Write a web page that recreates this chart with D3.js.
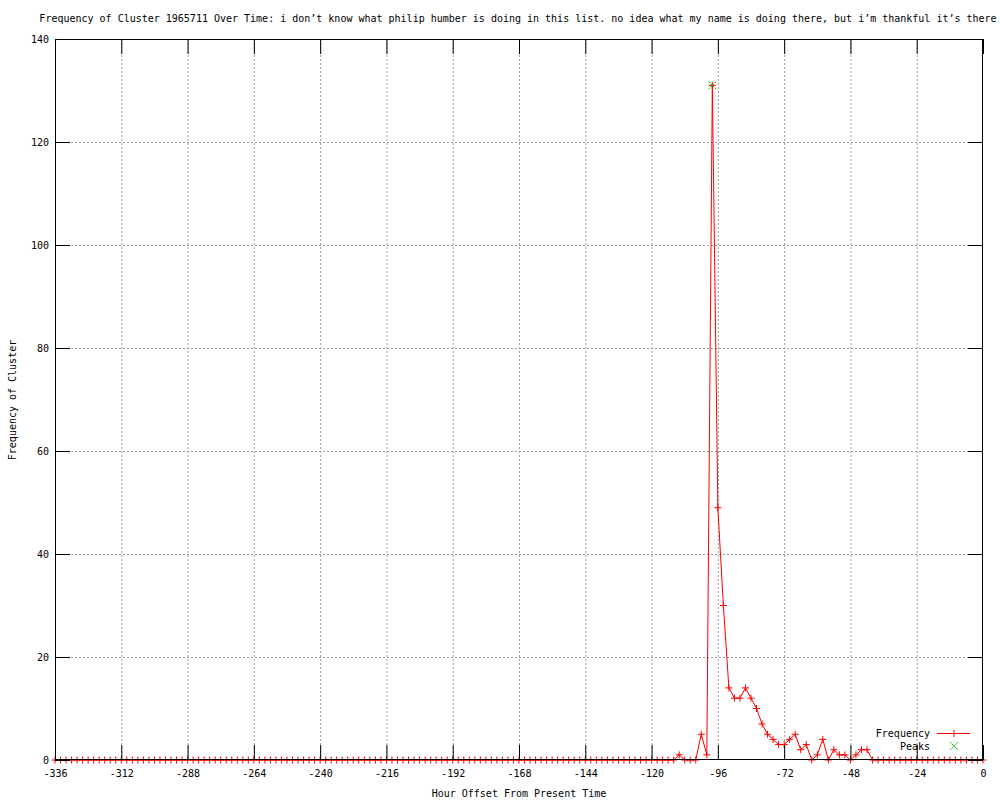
<!DOCTYPE html>
<html>
<head>
<meta charset="utf-8">
<script src="https://cdn.jsdelivr.net/npm/d3@7"></script>
<style>
  html, body { margin: 0; padding: 0; background: #fff; }
  svg { display: block; }
  text { font-family: "DejaVu Sans Mono", "Liberation Mono", monospace; font-size: 10px; fill: #000; }
</style>
</head>
<body>
<svg id="chart" width="1000" height="800"></svg>
<script>
// ---- data ----
const titleText = "Frequency of Cluster 1965711 Over Time: i don\u2019t know what philip humber is doing in this list. no idea what my name is doing there, but i\u2019m thankful it\u2019s there";
const xLabel = "Hour Offset From Present Time";
const yLabel = "Frequency of Cluster";
const seriesNames = ["Frequency", "Peaks"];
const startHour = -336;
const stepHours = 2;
// frequency every 2 hours from -336 to 0
const frequency = [
  0,0,0,0,0,0,0,0,0,0, 0,0,0,0,0,0,0,0,0,0,
  0,0,0,0,0,0,0,0,0,0, 0,0,0,0,0,0,0,0,0,0,
  0,0,0,0,0,0,0,0,0,0, 0,0,0,0,0,0,0,0,0,0,
  0,0,0,0,0,0,0,0,0,0, 0,0,0,0,0,0,0,0,0,0,
  0,0,0,0,0,0,0,0,0,0, 0,0,0,0,0,0,0,0,0,0,
  0,0,0,0,0,0,0,0,0,0, 0,0,0,          // -336 .. -112
  1, 0, 0, 0,                         // -110 .. -104
  5, 1, 131, 49, 30, 14, 12, 12, 14, 12, // -102 .. -84
  10, 7, 5, 4, 3, 3, 4, 5, 2, 3,      // -82 .. -64
  0, 1, 4, 0, 2, 1, 1, 0, 1, 2, 2,    // -62 .. -42
  0,0,0,0,0,0,0,0,0,0, 0,0,0,0,0,0,0,0,0,0, 0 // -40 .. 0
];
const peakHours = [-98];
const peakValues = [131];
const xTicks = [-336,-312,-288,-264,-240,-216,-192,-168,-144,-120,-96,-72,-48,-24,0];
const yTicks = [0,20,40,60,80,100,120,140];

// ---- layout ----
const svg = d3.select("#chart");
const L = 55, R = 983, T = 39, B = 760;
const x = d3.scaleLinear().domain([-336, 0]).range([L, R]);
const y = d3.scaleLinear().domain([0, 140]).range([B, T]);
const hours = frequency.map((_, i) => startHour + i * stepHours);
const pts = frequency.map((v, i) => ({h: hours[i], v}));
const tickLen = 15;
const red = "#ff0000", green = "#00c000", gridCol = "#a0a0a0";

// grid
const grid = svg.append("g");
xTicks.filter(t => t !== -336 && t !== 0).forEach(t => {
  grid.append("line").attr("x1", x(t)+0.5).attr("x2", x(t)+0.5).attr("y1", T).attr("y2", B)
    .attr("stroke", gridCol).attr("stroke-width", 1).attr("stroke-dasharray", "2,2");
});
yTicks.filter(t => t !== 0 && t !== 140).forEach(t => {
  grid.append("line").attr("x1", L).attr("x2", R).attr("y1", Math.round(y(t))+0.5).attr("y2", Math.round(y(t))+0.5)
    .attr("stroke", gridCol).attr("stroke-width", 1).attr("stroke-dasharray", "2,2");
});

// data line
const line = d3.line().x(d => x(d.h)).y(d => y(d.v));
svg.append("path").datum(pts).attr("d", line).attr("fill", "none")
  .attr("stroke", red).attr("stroke-width", 1);

// markers (+)
svg.append("g").selectAll("path.m").data(pts).join("path")
  .attr("d", d => `M${x(d.h)-3.5},${y(d.v)}h7M${x(d.h)},${y(d.v)-3.5}v7`)
  .attr("stroke", red).attr("stroke-width", 1).attr("fill", "none");

// border
svg.append("rect").attr("x", L+0.5).attr("y", T+0.5).attr("width", R-L-1).attr("height", B-T-1)
  .attr("fill", "none").attr("stroke", "#000").attr("stroke-width", 1);

// peaks (x marker)
svg.append("g").selectAll("path.p").data(peakHours.map((h, i) => ({h, v: peakValues[i]}))).join("path")
  .attr("d", d => `M${x(d.h)-4},${y(d.v)-4}l8,8M${x(d.h)-4},${y(d.v)+4}l8,-8`)
  .attr("stroke", green).attr("stroke-width", 1).attr("stroke-dasharray", "2,1").attr("fill", "none");

// axes (ticks inside, mirrored)
const axB = d3.axisBottom(x).tickValues(xTicks).tickSizeInner(-tickLen).tickSizeOuter(0)
  .tickPadding(10).tickFormat(d => d3.format("d")(d).replace("\u2212", "-"));
svg.append("g").attr("transform", `translate(0,${B})`).call(axB)
  .call(g => g.select(".domain").remove())
  .call(g => g.selectAll("line").attr("stroke", "#000"))
  .call(g => g.selectAll("text").style("font-family", "DejaVu Sans Mono").style("font-size", "10px"));
const axT = d3.axisTop(x).tickValues(xTicks).tickSizeInner(-tickLen).tickSizeOuter(0).tickFormat("");
svg.append("g").attr("transform", `translate(0,${T})`).call(axT)
  .call(g => g.select(".domain").remove())
  .call(g => g.selectAll("line").attr("stroke", "#000"));
const axL = d3.axisLeft(y).tickValues(yTicks).tickSizeInner(-tickLen).tickSizeOuter(0)
  .tickPadding(6).tickFormat(d3.format("d"));
svg.append("g").attr("transform", `translate(${L},0)`).call(axL)
  .call(g => g.select(".domain").remove())
  .call(g => g.selectAll("line").attr("stroke", "#000"))
  .call(g => g.selectAll("text").style("font-family", "DejaVu Sans Mono").style("font-size", "10px"));
const axR = d3.axisRight(y).tickValues(yTicks).tickSizeInner(-tickLen).tickSizeOuter(0).tickFormat("");
svg.append("g").attr("transform", `translate(${R},0)`).call(axR)
  .call(g => g.select(".domain").remove())
  .call(g => g.selectAll("line").attr("stroke", "#000"));

// titles
svg.append("text").attr("x", 518).attr("y", 22).attr("text-anchor", "middle").text(titleText);
svg.append("text").attr("x", 519).attr("y", 797).attr("text-anchor", "middle").text(xLabel);
svg.append("text").attr("transform", "translate(16,400) rotate(-90)").attr("text-anchor", "middle").text(yLabel);

// legend
const lg = svg.append("g");
lg.append("text").attr("x", 930).attr("y", 737).attr("text-anchor", "end").text(seriesNames[0]);
lg.append("line").attr("x1", 937).attr("x2", 970).attr("y1", 733.5).attr("y2", 733.5).attr("stroke", red);
lg.append("path").attr("d", "M950.5,733.5h7M954,730v7").attr("stroke", red).attr("fill", "none");
lg.append("text").attr("x", 930).attr("y", 750).attr("text-anchor", "end").text(seriesNames[1]);
lg.append("path").attr("d", "M950,742l8,8M950,750l8,-8").attr("stroke", green).attr("fill", "none").attr("stroke-dasharray", "2,1");
</script>
</body>
</html>
